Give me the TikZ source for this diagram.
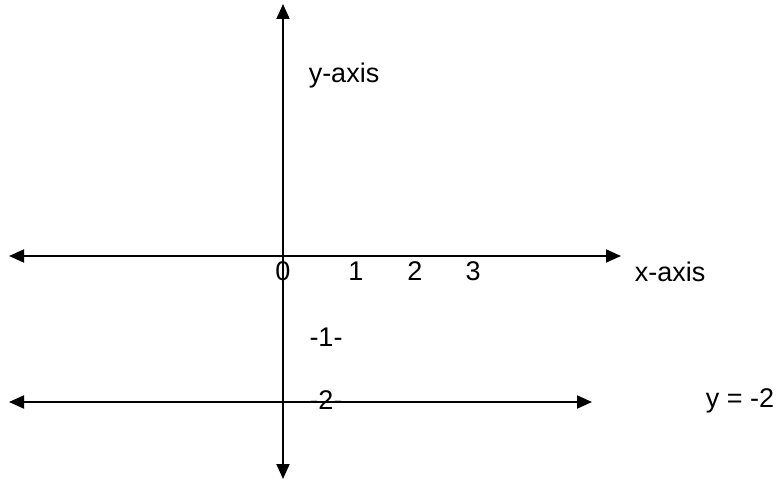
\documentclass[tikz,border=0pt]{standalone}
\usepackage{fontspec}
\setmainfont{Liberation Sans}
\usetikzlibrary{arrows.meta}

\begin{document}
\begin{tikzpicture}[x=1pt,y=1pt,
  axis/.style={line width=1.9pt,{Triangle[length=15pt,width=13pt]}-{Triangle[length=15pt,width=13pt]}},
  lbl/.style={font=\fontsize{27}{32}\selectfont,inner sep=0pt}]
\useasboundingbox (0,0) rectangle (783,484);
% axes end points
\coordinate (yt) at (283,480);
\coordinate (yb) at (283,5);
\coordinate (xl) at (9,228);
\coordinate (xr) at (621,228);
\coordinate (ll) at (9,82);
\coordinate (lr) at (592,82);
\draw[axis] (yb) -- (yt);
\draw[axis] (xl) -- (xr);
\draw[axis] (ll) -- (lr);
% labels
\node[lbl] (ylab) at (344,408) {y-axis};
\node[lbl] (xlab) at (670,212) {x-axis};
\node[lbl] (n0) at (283,213) {0};
\node[lbl] (n1) at (356,213) {1};
\node[lbl] (n2) at (415,213) {2};
\node[lbl] (n3) at (473,213) {3};
\node[lbl] (m1) at (326,147) {-1-};
\node[lbl] (m2) at (326,84) {-2-};
\node[lbl] (eq) at (740,83) {y = -2};
\end{tikzpicture}
\end{document}
